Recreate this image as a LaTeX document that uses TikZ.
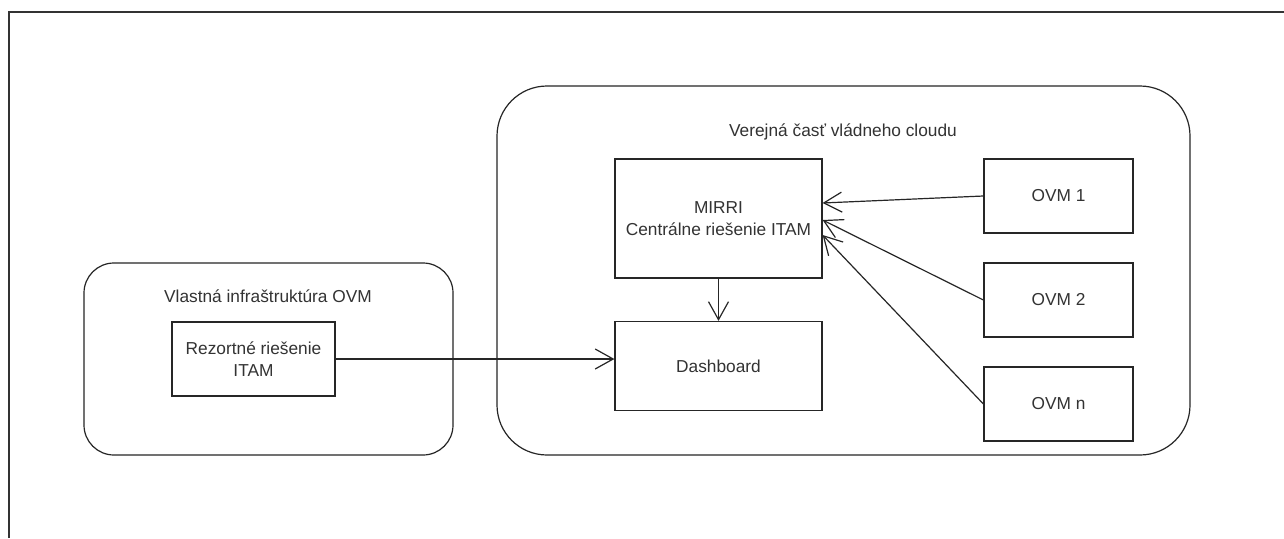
\documentclass[tikz,border=0pt]{standalone}
\usepackage{fontspec}
\setmainfont{Liberation Sans}
\usetikzlibrary{arrows.meta}
\tikzset{
  box/.style={draw=black!85, line width=1.2pt, rectangle, inner sep=0pt, align=center,
              font=\fontsize{17.3}{22}\selectfont, text=black!80},
  group/.style={draw=black!85, line width=1.2pt, rectangle, rounded corners=#1, inner sep=0pt},
  title/.style={font=\fontsize{17.3}{22}\selectfont, text=black!80, inner sep=0pt},
  link/.style={draw=black!85, line width=1.2pt, -{Straight Barb[length=18pt,width=20pt,line width=1.2pt]}},
}
\begin{document}
\begin{tikzpicture}[x=1pt,y=-1pt]
  \useasboundingbox (0,0) rectangle (1284,538);
  \fill[white] (0,0) rectangle (1284,538);
  % outer frame
  \coordinate (fb) at (9,538);
  \coordinate (fc) at (9,12);
  \coordinate (fr) at (1284,12);
  \draw[black!80, line width=1.8pt] (fb) -- (fc) -- (fr);

  % containers
  \node[group=30pt, minimum width=369pt, minimum height=192pt] (own) at (268.5,359) {};
  \node[title] (ownt) at (268,296) {Vlastná infraštruktúra OVM};
  \node[group=50pt, minimum width=693pt, minimum height=369pt] (cloud) at (843.5,270.5) {};
  \node[title] (cloudt) at (843,132) {Verejná časť vládneho cloudu};

  % boxes
  \node[box, minimum width=163pt, minimum height=74pt] (rez) at (253.5,359) {Rezortné riešenie\\ITAM};
  \node[box, minimum width=207pt, minimum height=119pt] (mirri) at (718.5,218.5) {MIRRI\\Centrálne riešenie ITAM};
  \node[box, minimum width=207pt, minimum height=89pt] (dash) at (718.5,366) {Dashboard};
  \node[box, minimum width=149pt, minimum height=74pt] (o1) at (1058.5,196) {OVM 1};
  \node[box, minimum width=149pt, minimum height=74pt] (o2) at (1058.5,300) {OVM 2};
  \node[box, minimum width=149pt, minimum height=74pt] (on) at (1058.5,404) {OVM n};

  % connectors
  \draw[link] (mirri.south) -- (dash.north);
  \draw[link] (rez.east) -- (rez.east -| dash.west);
  \draw[link] (o1.west) -- ([yshift=15.5pt]mirri.east);
  \draw[link] (o2.west) -- ([yshift=-1.5pt]mirri.east);
  \draw[link] (on.west) -- ([yshift=-16.5pt]mirri.east);
\end{tikzpicture}
\end{document}
